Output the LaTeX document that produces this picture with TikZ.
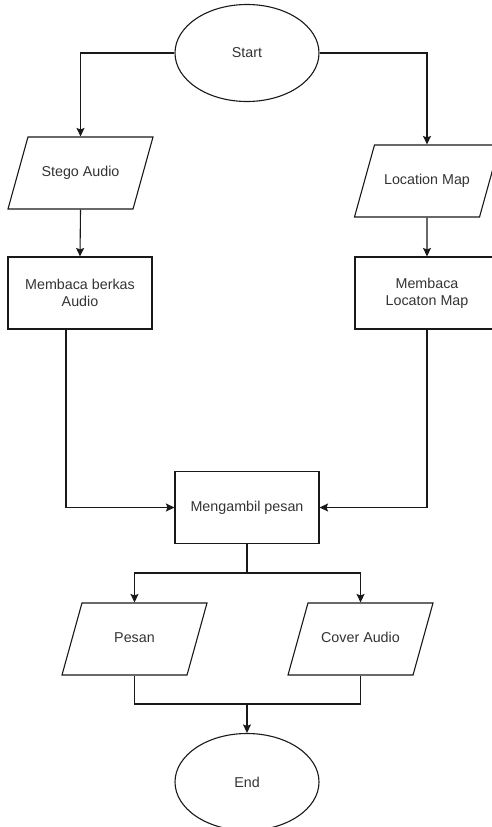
\documentclass[tikz,border=0pt]{standalone}
\usepackage{fontspec}
\setmainfont{Liberation Sans}
\usetikzlibrary{positioning,shapes.geometric,arrows.meta}

\begin{document}
\begin{tikzpicture}[x=1pt,y=-1pt,line width=1.1pt,draw=black!90]
		\tikzset{Terminal/.style = {ellipse, draw, minimum width=144pt, minimum height=97pt, inner sep=0pt},
			Data/.style = {trapezium, draw, trapezium left angle=74.5, trapezium right angle=105.5,
				trapezium stretches body=true, minimum width=145pt, inner xsep=0pt, inner ysep=29.5pt,
				text height=10pt, text depth=3pt},
			Process/.style = {rectangle, draw, align=center, minimum width=144pt, minimum height=72pt, inner sep=0pt},
			every node/.style = {font=\fontsize{14.3}{17}\selectfont, text=black!80},
			>={Stealth[length=8.5pt,width=8pt,inset=1.5pt]}}
		\useasboundingbox (0,0) rectangle (492,827);
		\node[Terminal] (Start) at (247,53)    {Start};
		\node[Data]     (SA)    at (80.5,173)  {Stego Audio};
		\node[Data]     (LM)    at (427,181)   {Location Map};
		\node[Process]  (MBA)   at (80,293)    {Membaca berkas\\Audio};
		\node[Process]  (MBL)   at (427,293)   {Membaca\\Locaton Map};
		\node[Process]  (MP)    at (247,507.5) {Mengambil pesan};
		\node[Data]     (P)     at (134.5,639) {Pesan};
		\node[Data]     (CA)    at (360.5,639) {Cover Audio};
		\node[Terminal] (End)   at (247,782)   {End};
		\coordinate (split) at (247,573);
		\coordinate (join)  at (247,704);
		\draw [->] (Start.west) -| (SA.north);
		\draw [->] (Start.east) -| (LM.north);
		\draw [->] (SA.south) -- (MBA.north);
		\draw [->] (LM.south) -- (MBL.north);
		\draw [->] ([xshift=-14pt]MBA.south) |- (MP.west);
		\draw [->] (MBL.south) |- (MP.east);
		\draw (MP.south) -- (split);
		\draw [->] (split) -| (P.north);
		\draw [->] (split) -| (CA.north);
		\draw (P.south) |- (join) -| (CA.south);
		\draw [->] (join) -- (End.north);
	\end{tikzpicture}
\end{document}
